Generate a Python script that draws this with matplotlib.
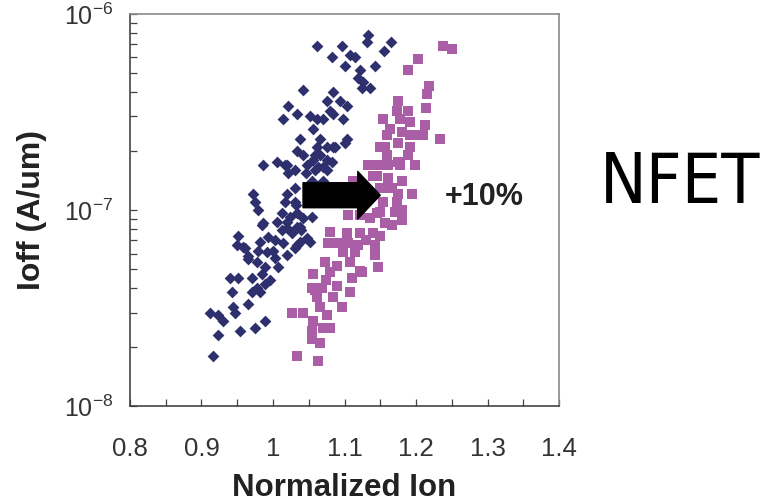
import numpy as np
import matplotlib
matplotlib.use('Agg')
import matplotlib.pyplot as plt
from matplotlib import font_manager
from matplotlib.ticker import LogLocator, NullFormatter, FixedLocator

plt.rcParams['font.family'] = ['Liberation Sans', 'DejaVu Sans']
plt.rcParams['mathtext.default'] = 'regular'

# baseline NFET (navy diamonds)
base_ion = [1.133, 1.131, 1.062, 1.097, 1.165, 1.155, 1.083, 1.108, 1.115, 1.101,
            1.143, 1.122, 1.119, 1.126, 1.136, 1.124, 1.042, 1.084, 1.076, 1.094,
            1.103, 1.021, 1.034, 1.014, 1.052, 1.062, 1.070, 1.080, 1.084, 1.098,
            1.056, 1.038, 1.066, 1.062, 1.076, 1.084, 1.103, 1.034, 1.042, 1.066,
            1.076, 1.056, 1.017, 1.031, 1.048, 1.063, 0.986, 1.006, 1.020, 1.059,
            1.070, 1.101, 1.087, 1.083, 1.021, 1.046, 1.076, 0.972, 1.020, 1.031,
            1.055, 1.070, 0.975, 0.979, 1.017, 1.031, 1.034, 1.013, 1.006, 1.020,
            0.986, 1.055, 1.038, 1.048, 1.027, 1.013, 0.951, 0.958, 0.993, 1.003,
            0.982, 1.014, 1.034, 1.052, 0.979, 0.992, 1.000, 1.031, 0.965, 0.985,
            0.961, 1.039, 1.024, 1.042, 0.965, 0.978, 0.989, 1.003, 1.007, 1.020,
            0.940, 0.951, 0.971, 0.985, 0.978, 0.989, 0.996, 0.971, 0.982, 0.943,
            0.965, 0.944, 0.947, 0.912, 0.923, 0.930, 0.954, 0.975, 0.989, 0.923,
            0.916, 1.032, 1.059, 0.950, 1.038, 1.034, 1.020]
base_ioff = [7.8e-7, 7.2e-7, 6.9e-7, 6.9e-7, 7.2e-7, 6.5e-7, 6.0e-7, 6.2e-7, 6.0e-7, 5.4e-7,
             5.4e-7, 5.2e-7, 4.7e-7, 4.5e-7, 4.2e-7, 4.2e-7, 4.1e-7, 4.0e-7, 3.6e-7, 3.6e-7,
             3.4e-7, 3.4e-7, 3.1e-7, 2.9e-7, 3.0e-7, 2.9e-7, 2.9e-7, 3.2e-7, 3.1e-7, 2.9e-7,
             2.6e-7, 2.3e-7, 2.3e-7, 2.1e-7, 2.1e-7, 2.1e-7, 2.3e-7, 2.0e-7, 1.9e-7, 1.9e-7,
             1.8e-7, 1.8e-7, 1.7e-7, 1.6e-7, 1.7e-7, 1.65e-7, 1.7e-7, 1.75e-7, 1.7e-7, 1.6e-7,
             1.65e-7, 2.2e-7, 2.1e-7, 1.75e-7, 1.55e-7, 1.55e-7, 1.6e-7, 1.2e-7, 1.2e-7, 1.3e-7,
             1.4e-7, 1.4e-7, 1.1e-7, 1.0e-7, 1.1e-7, 1.1e-7, 9.7e-8, 9.7e-8, 8.7e-8, 8.7e-8,
             8.6e-8, 9.2e-8, 8.2e-8, 7.2e-8, 7.6e-8, 7.9e-8, 7.4e-8, 6.5e-8, 7.3e-8, 7.0e-8,
             6.9e-8, 6.8e-8, 6.6e-8, 6.9e-8, 6.2e-8, 6.1e-8, 6.2e-8, 6.4e-8, 5.8e-8, 8.4e-8,
             6.4e-8, 7.9e-8, 9.2e-8, 9.1e-8, 5.6e-8, 5.4e-8, 5.1e-8, 5.7e-8, 5.1e-8, 5.9e-8,
             4.5e-8, 4.5e-8, 4.5e-8, 4.7e-8, 4.0e-8, 4.2e-8, 4.4e-8, 3.8e-8, 3.8e-8, 3.8e-8,
             3.3e-8, 3.2e-8, 3.0e-8, 3.0e-8, 2.9e-8, 2.7e-8, 2.4e-8, 2.5e-8, 2.7e-8, 2.3e-8,
             1.8e-8, 1.06e-7, 1.9e-7, 6.6e-8, 6.9e-8, 8.2e-8, 8.1e-8]

# improved NFET (magenta squares)
new_ion = [1.238, 1.250, 1.203, 1.189, 1.218, 1.215, 1.175, 1.214, 1.154, 1.173,
           1.189, 1.178, 1.192, 1.213, 1.164, 1.159, 1.180, 1.199, 1.210, 1.234,
           1.150, 1.175, 1.192, 1.189, 1.159, 1.133, 1.147, 1.161, 1.178, 1.199,
           1.145, 1.161, 1.180, 1.112, 1.152, 1.166, 1.194, 1.180, 1.180, 1.157,
           1.192, 1.175, 1.140, 1.175, 1.154, 1.173, 1.150, 1.171, 1.105, 1.136,
           1.157, 1.115, 1.150, 1.122, 1.145, 1.166, 1.080, 1.103, 1.122, 1.140,
           1.150, 1.077, 1.091, 1.105, 1.119, 1.143, 1.098, 1.115, 1.143, 1.073,
           1.090, 1.108, 1.147, 1.080, 1.110, 1.124, 1.056, 1.055, 1.069, 1.090,
           1.108, 1.062, 1.084, 1.027, 1.042, 1.066, 1.097, 1.076, 1.056, 1.080,
           1.055, 1.055, 1.066, 1.034, 1.063, 1.070, 1.122, 1.074, 1.059, 1.130]
new_ioff = [6.9e-7, 6.6e-7, 5.9e-7, 5.2e-7, 4.3e-7, 3.9e-7, 3.6e-7, 3.3e-7, 2.9e-7, 3.2e-7,
            3.2e-7, 2.9e-7, 2.8e-7, 2.7e-7, 2.6e-7, 2.4e-7, 2.5e-7, 2.4e-7, 2.4e-7, 2.3e-7,
            2.1e-7, 2.2e-7, 2.1e-7, 1.9e-7, 1.9e-7, 1.7e-7, 1.7e-7, 1.7e-7, 1.7e-7, 1.7e-7,
            1.5e-7, 1.45e-7, 1.4e-7, 1.4e-7, 1.3e-7, 1.3e-7, 1.2e-7, 1.0e-7, 8.9e-8, 2.1e-7,
            2.4e-7, 1.75e-7, 1.5e-7, 1.2e-7, 1.1e-7, 1.1e-7, 9.8e-8, 9.8e-8, 9.4e-8, 9.1e-8,
            8.6e-8, 1.3e-7, 1.3e-7, 9.4e-8, 9.7e-8, 8.4e-8, 7.7e-8, 7.6e-8, 7.6e-8, 7.6e-8,
            7.4e-8, 6.8e-8, 6.8e-8, 6.8e-8, 6.6e-8, 6.6e-8, 6.1e-8, 6.1e-8, 5.9e-8, 5.4e-8,
            5.2e-8, 5.4e-8, 5.1e-8, 4.8e-8, 4.5e-8, 4.8e-8, 4.7e-8, 4.0e-8, 4.0e-8, 4.1e-8,
            3.8e-8, 3.6e-8, 3.6e-8, 3.0e-8, 3.0e-8, 3.2e-8, 3.2e-8, 2.9e-8, 2.7e-8, 2.5e-8,
            2.4e-8, 2.2e-8, 2.1e-8, 1.8e-8, 1.7e-8, 2.5e-8, 4.9e-8, 4.4e-8, 3.9e-8, 7.0e-8]

x_ticks = [0.8, 0.9, 1.0, 1.1, 1.2, 1.3, 1.4]
x_tick_labels = ['0.8', '0.9', '1', '1.1', '1.2', '1.3', '1.4']
y_ticks = [1e-8, 1e-7, 1e-6]
y_tick_labels = [r'$10^{-8}$', r'$10^{-7}$', r'$10^{-6}$']

# narrow face for the big label, if one is installed
names = {f.name for f in font_manager.fontManager.ttflist}
condensed = [f for f in font_manager.fontManager.ttflist
             if f.name == 'DejaVu Sans' and f.stretch == 'condensed']
if 'Liberation Sans Narrow' in names:
    nfet_kw = dict(family='Liberation Sans Narrow', fontsize=53)
elif condensed:
    nfet_kw = dict(family='DejaVu Sans', stretch='condensed', fontsize=50)
else:
    nfet_kw = dict(family='DejaVu Sans', fontsize=44)

fig = plt.figure(figsize=(7.69, 5.04), dpi=100)
ax = fig.add_axes([0.169, 0.1944, 0.558, 0.7778])

ax.scatter(base_ion, base_ioff, marker='D', s=36, c='#2e2f6d', linewidths=0, zorder=2)
ax.scatter(new_ion, new_ioff, marker='s', s=56, c='#a95ea6', linewidths=0, zorder=3)

ax.set_yscale('log')
ax.set_xlim(0.8, 1.4)
ax.set_ylim(1e-8, 1e-6)

ax.set_xticks(x_ticks, labels=x_tick_labels)
ax.xaxis.set_minor_locator(FixedLocator([0.85, 0.95, 1.05, 1.15, 1.25, 1.35]))
ax.set_yticks(y_ticks, labels=y_tick_labels)
ax.yaxis.set_minor_locator(LogLocator(base=10, subs=np.arange(2, 10)))
ax.yaxis.set_minor_formatter(NullFormatter())

ax.tick_params(which='both', direction='in', length=5, width=0.9, color='#444444',
               top=False, right=False)
ax.tick_params(axis='x', which='major', labelsize=18.5, pad=22, labelcolor='#333333')
ax.tick_params(axis='y', which='major', labelsize=18, pad=12, labelcolor='#333333')

for side in ['left', 'bottom']:
    ax.spines[side].set_color('#444444')
    ax.spines[side].set_linewidth(1.2)
for side in ['top', 'right']:
    ax.spines[side].set_color('#8a8a8a')
    ax.spines[side].set_linewidth(1.2)

ax.set_xlabel('Normalized Ion', fontsize=22.5, fontweight='bold', color='#222222', labelpad=9)
ax.set_ylabel('Ioff (A/um)', fontsize=23, fontweight='bold', color='#222222', labelpad=12)

# shift arrow
ax.annotate('', xy=(1.15, 1.19e-7), xytext=(1.042, 1.19e-7),
            arrowprops=dict(arrowstyle='simple,head_length=0.9,head_width=1.9,tail_width=1.0',
                            fc='black', ec='black', mutation_scale=18,
                            shrinkA=0, shrinkB=0), zorder=5)
ax.text(1.296, 1.16e-7, '+10%', fontsize=22, fontweight='bold', color='#222222',
        ha='center', va='center')

fig.text(0.884, 0.636, 'NFET', color='black', ha='center', va='center', **nfet_kw)

fig.savefig('out.png', dpi=100)
